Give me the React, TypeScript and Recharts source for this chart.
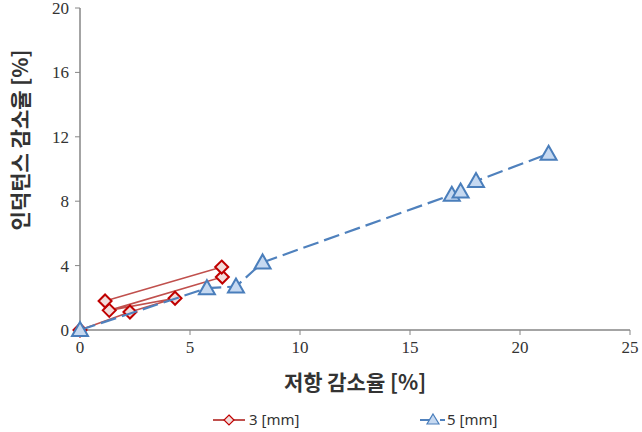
import { Label, Legend, Scatter, ScatterChart, XAxis, YAxis } from 'recharts';

// 3 [mm] series, in data order (Excel scatter joins points in this order)
const mm3X = [0, 2.27, 4.32, 1.33, 6.47, 6.44, 1.14];
const mm3Y = [0, 1.12, 1.97, 1.22, 3.29, 3.91, 1.8];

// 5 [mm] series
const mm5X = [0, 5.77, 7.09, 8.3, 16.9, 17.3, 18.0, 21.3];
const mm5Y = [0, 2.6, 2.7, 4.2, 8.4, 8.6, 9.25, 10.95];

const xTicks = [0, 5, 10, 15, 20, 25];
const yTicks = [0, 4, 8, 12, 16, 20];

const seriesNames = ['3 [mm]', '5 [mm]'];

const RED_LINE = '#C0504D';
const RED_EDGE = '#C00000';
const RED_FILL = '#F2DCDB';
const BLUE_LINE = '#4F81BD';
const BLUE_EDGE = '#4A7EBB';
const BLUE_FILL = '#C6D9F1';
const AXIS = '#868686';
const TITLE_FONT = "'Noto Sans CJK KR', sans-serif";

const mm3 = mm3X.map((x, i) => ({ x, y: mm3Y[i] }));
const mm5 = mm5X.map((x, i) => ({ x, y: mm5Y[i] }));

function Diamond({ cx, cy }: { cx?: number; cy?: number }) {
  if (cx == null || cy == null) return null;
  const r = 6.5;
  return (
    <polygon
      points={`${cx},${cy - r} ${cx + r},${cy} ${cx},${cy + r} ${cx - r},${cy}`}
      fill={RED_FILL}
      stroke={RED_EDGE}
      strokeWidth={2}
    />
  );
}

function Triangle({ cx, cy }: { cx?: number; cy?: number }) {
  if (cx == null || cy == null) return null;
  return (
    <polygon
      points={`${cx},${cy - 8} ${cx + 8},${cy + 6} ${cx - 8},${cy + 6}`}
      fill={BLUE_FILL}
      stroke={BLUE_EDGE}
      strokeWidth={2}
    />
  );
}

function YTitle() {
  return (
    <text
      x={0}
      y={0}
      transform="translate(19, 140) rotate(-90)"
      textAnchor="middle"
      dominantBaseline="central"
      fontFamily={TITLE_FONT}
      fontWeight={700}
      fontSize={21}
      fill="#333"
    >
      인덕턴스 감소율 [%]
    </text>
  );
}

function ChartLegend() {
  return (
    <svg width={642} height={24} style={{ display: 'block' }}>
      <line x1={213} y1={12} x2={245} y2={12} stroke={RED_LINE} strokeWidth={2} />
      <polygon points="229,7 234,12 229,17 224,12" fill={RED_FILL} stroke={RED_EDGE} strokeWidth={1.2} />
      <text x={249} y={17} fontSize={15} fill="#333" fontFamily="'Noto Sans', sans-serif">
        {seriesNames[0]}
      </text>
      <line x1={420} y1={12} x2={445} y2={12} stroke={BLUE_LINE} strokeWidth={2} strokeDasharray="16 4" />
      <polygon points="433,6 439,16 427,16" fill={BLUE_FILL} stroke={BLUE_EDGE} strokeWidth={1.2} />
      <text x={447} y={17} fontSize={15} fill="#333" fontFamily="'Noto Sans', sans-serif">
        {seriesNames[1]}
      </text>
    </svg>
  );
}

export default function App() {
  const tickStyle = { fontFamily: "'Liberation Serif', serif", fontSize: 17, fill: '#333' };
  return (
    <div style={{ position: 'absolute', left: 0, top: 0, width: 642, height: 432, background: '#fff' }}>
      <ScatterChart width={642} height={432} margin={{ top: 8, right: 12, left: 0, bottom: 0 }}>
        <XAxis
          type="number"
          dataKey="x"
          domain={[0, 25]}
          ticks={xTicks}
          interval={0}
          height={78}
          axisLine={{ stroke: AXIS, strokeWidth: 1.5 }}
          tickLine={{ stroke: AXIS }}
          tickSize={5}
          tick={tickStyle}
          tickMargin={6}
        >
          <Label
            value="저항 감소율 [%]"
            position="insideTop"
            offset={45}
            style={{ fontFamily: TITLE_FONT, fontWeight: 700, fontSize: 21, fill: '#333' }}
          />
        </XAxis>
        <YAxis
          type="number"
          dataKey="y"
          domain={[0, 20]}
          ticks={yTicks}
          interval={0}
          width={80}
          axisLine={{ stroke: AXIS, strokeWidth: 1.5 }}
          tickLine={{ stroke: AXIS }}
          tickSize={5}
          tick={tickStyle}
          tickMargin={6}
        >
          <Label content={<YTitle />} />
        </YAxis>
        <Legend verticalAlign="bottom" content={<ChartLegend />} wrapperStyle={{ bottom: 0, left: 0 }} />
        <Scatter
          name={seriesNames[0]}
          data={mm3}
          line={{ stroke: RED_LINE, strokeWidth: 1.6 }}
          lineType="joint"
          shape={<Diamond />}
          isAnimationActive={false}
        />
        <Scatter
          name={seriesNames[1]}
          data={mm5}
          line={{ stroke: BLUE_LINE, strokeWidth: 2.2, strokeDasharray: '16 6' }}
          lineType="joint"
          shape={<Triangle />}
          isAnimationActive={false}
        />
      </ScatterChart>
    </div>
  );
}
